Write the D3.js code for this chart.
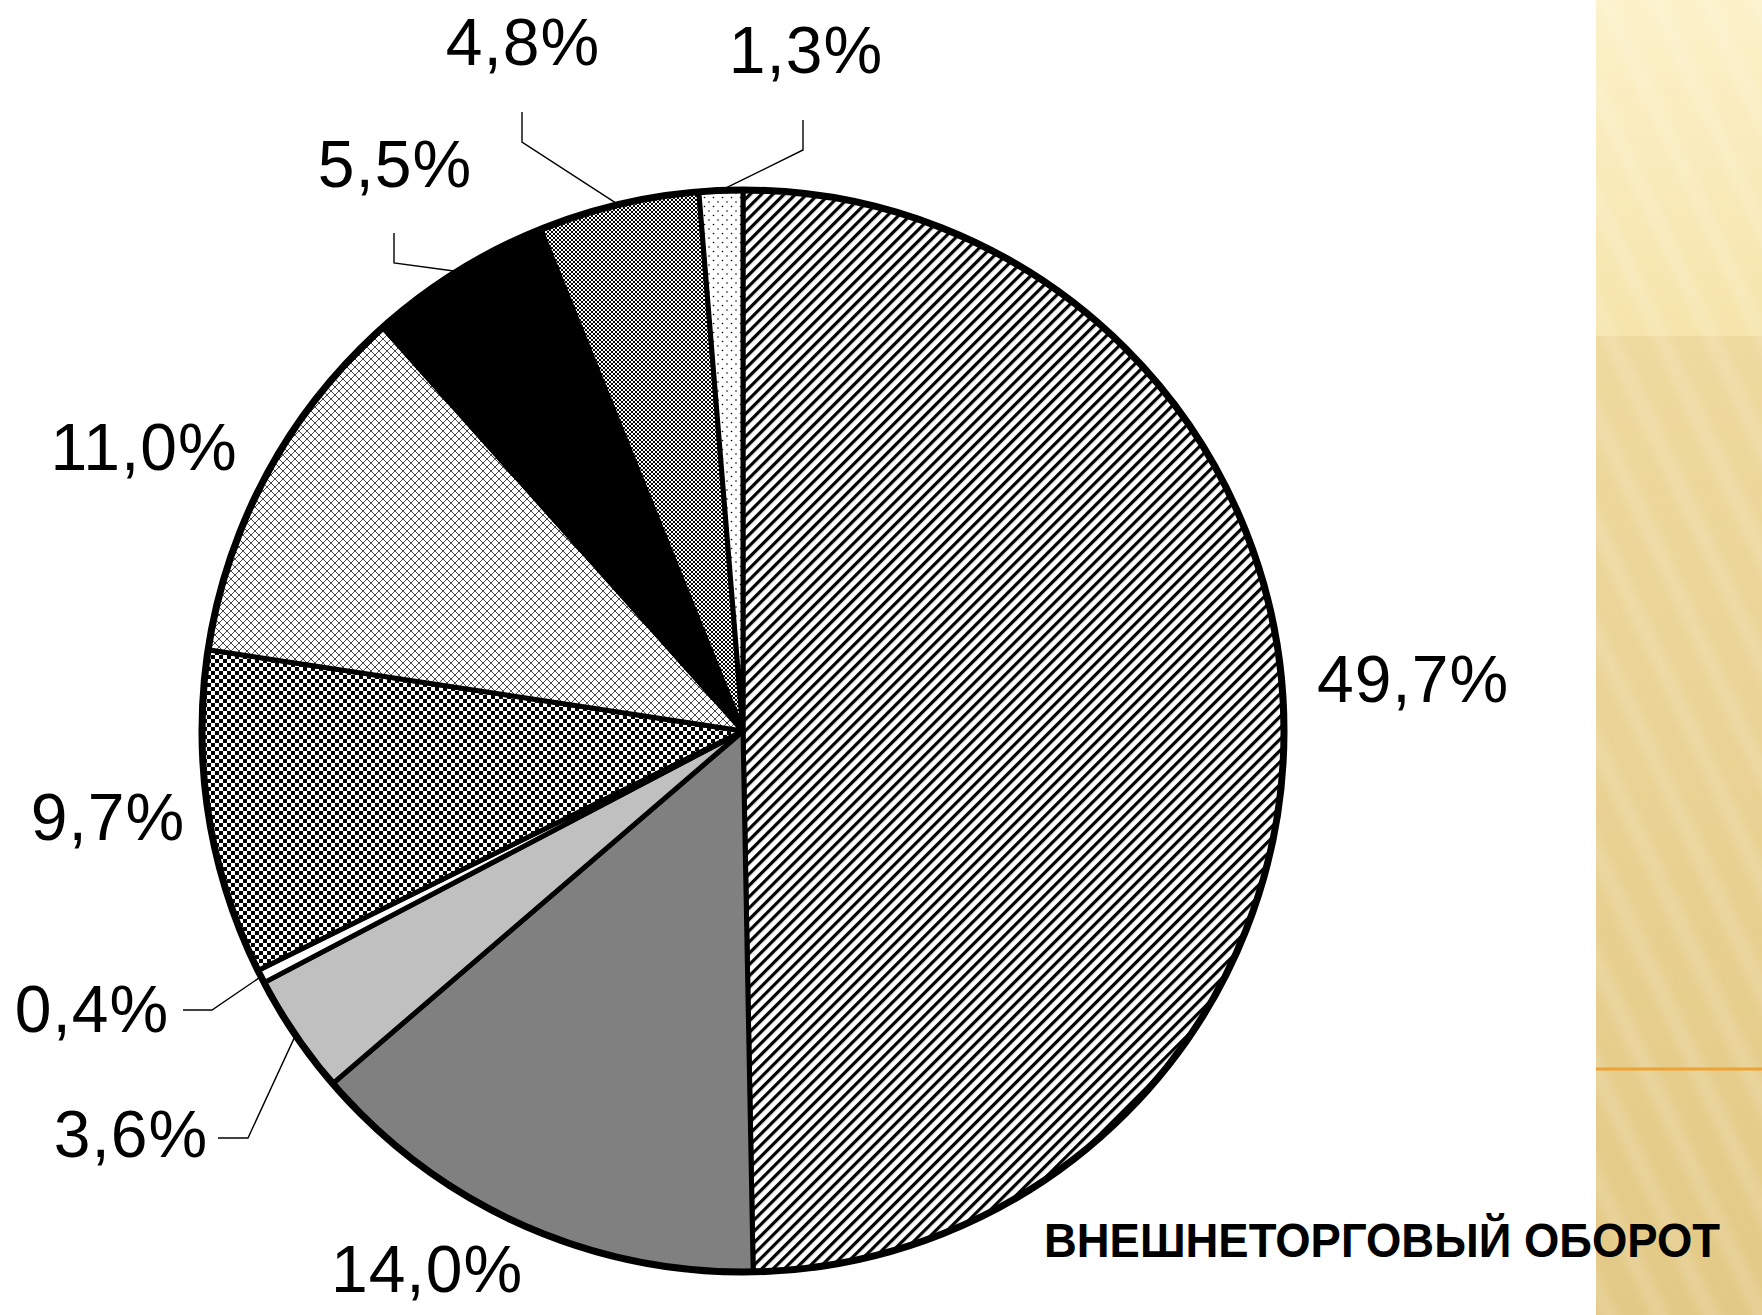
<!DOCTYPE html>
<html>
<head>
<meta charset="utf-8">
<script src="https://cdn.jsdelivr.net/npm/d3@7"></script>
<style>
  html, body { margin: 0; padding: 0; background: #fff; }
  svg { display: block; }
</style>
</head>
<body>
<div class="container"></div>
<script>
// shares of the pie, clockwise from 12 o'clock
var shares = [49.7, 14.0, 3.6, 0.4, 9.7, 11.0, 5.5, 4.8, 1.3];
var title = "ВНЕШНЕТОРГОВЫЙ ОБОРОТ";

// fill per slice (patterns are defined below)
var fills = ["url(#hatch)", "#808080", "#c0c0c0", "#ffffff", "url(#checkBig)",
             "url(#cross)", "#000000", "url(#checkFine)", "url(#dots)"];

// label baseline centres
var labelAt = [[1413, 702], [427, 1292], [131, 1157], [92, 1032], [108, 840],
               [144, 470], [395, 187], [523, 65], [806, 73]];
// leader lines: [start, knee] for slices that have one, null otherwise
var leaders = [null, null, [[218, 1138], [248, 1138]], [[183, 1010], [212, 1010]], null,
               null, [[394, 233], [394, 263]], [[522, 112], [522, 142]], [[803, 120], [803, 150]]];

var svgWidth = 1762;
var svgHeight = 1315;
var cx = 743, cy = 731, radius = 541;

var svg = d3.select(".container")
    .append("svg")
    .attr("width", svgWidth)
    .attr("height", svgHeight);

var defs = svg.append("defs");

// right side decorative strip
var gTop = defs.append("linearGradient").attr("id", "bgTop").attr("x1", 0).attr("y1", 0).attr("x2", 0).attr("y2", 1);
gTop.append("stop").attr("offset", "0%").attr("stop-color", "#fcf1c9");
gTop.append("stop").attr("offset", "100%").attr("stop-color", "#f5e4ab");
var gLow = defs.append("linearGradient").attr("id", "bgLow").attr("x1", 0).attr("y1", 0).attr("x2", 0).attr("y2", 1);
gLow.append("stop").attr("offset", "0%").attr("stop-color", "#eed99e");
gLow.append("stop").attr("offset", "100%").attr("stop-color", "#e3c986");

defs.append("filter").attr("id", "soft")
    .append("feGaussianBlur").attr("stdDeviation", 4);

var stripes = defs.append("pattern").attr("id", "bgStripes")
    .attr("patternUnits", "userSpaceOnUse").attr("width", 46).attr("height", 46)
    .attr("patternTransform", "rotate(-25)");
stripes.append("rect").attr("width", 16).attr("height", 46).attr("fill", "#fff").attr("opacity", 0.14);

// slice patterns
var hatch = defs.append("pattern").attr("id", "hatch")
    .attr("patternUnits", "userSpaceOnUse").attr("width", 8).attr("height", 8)
    .attr("patternTransform", "rotate(45)");
hatch.append("rect").attr("width", 8).attr("height", 8).attr("fill", "#fff");
hatch.append("rect").attr("width", 3.2).attr("height", 8).attr("fill", "#000");

var checkBig = defs.append("pattern").attr("id", "checkBig")
    .attr("patternUnits", "userSpaceOnUse").attr("width", 8).attr("height", 8);
checkBig.append("rect").attr("width", 8).attr("height", 8).attr("fill", "#fff");
checkBig.append("rect").attr("width", 4).attr("height", 4).attr("fill", "#000");
checkBig.append("rect").attr("x", 4).attr("y", 4).attr("width", 4).attr("height", 4).attr("fill", "#000");

var checkFine = defs.append("pattern").attr("id", "checkFine")
    .attr("patternUnits", "userSpaceOnUse").attr("width", 4).attr("height", 4);
checkFine.append("rect").attr("width", 4).attr("height", 4).attr("fill", "#fff");
checkFine.append("rect").attr("width", 2).attr("height", 2).attr("fill", "#000");
checkFine.append("rect").attr("x", 2).attr("y", 2).attr("width", 2).attr("height", 2).attr("fill", "#000");

var cross = defs.append("pattern").attr("id", "cross")
    .attr("patternUnits", "userSpaceOnUse").attr("width", 8).attr("height", 8);
cross.append("rect").attr("width", 8).attr("height", 8).attr("fill", "#fff");
cross.append("path").attr("d", "M0,0L8,8M8,0L0,8").attr("stroke", "#333").attr("stroke-width", 0.9);

var dots = defs.append("pattern").attr("id", "dots")
    .attr("patternUnits", "userSpaceOnUse").attr("width", 9).attr("height", 9);
dots.append("rect").attr("width", 9).attr("height", 9).attr("fill", "#fff");
dots.append("circle").attr("cx", 2).attr("cy", 2).attr("r", 0.8).attr("fill", "#000");
dots.append("circle").attr("cx", 6.5).attr("cy", 6.5).attr("r", 0.8).attr("fill", "#000");

// background strip
svg.append("rect").attr("x", 1596).attr("y", 0).attr("width", 166).attr("height", 336).attr("fill", "url(#bgTop)");
svg.append("rect").attr("x", 1596).attr("y", 336).attr("width", 166).attr("height", 979).attr("fill", "url(#bgLow)");
svg.append("svg")
    .attr("x", 1596).attr("y", 0).attr("width", 166).attr("height", 1315)
    .append("rect").attr("x", -20).attr("y", -20).attr("width", 206).attr("height", 1355)
    .attr("fill", "url(#bgStripes)").attr("filter", "url(#soft)");
svg.append("line").attr("x1", 1596).attr("x2", 1762).attr("y1", 1069).attr("y2", 1069)
    .attr("stroke", "#eda233").attr("stroke-width", 3);

// pie
var pie = d3.pie().sort(null).value(d => d);
var arcs = pie(shares);
var arc = d3.arc().innerRadius(0).outerRadius(radius);
var edge = d3.arc().innerRadius(radius).outerRadius(radius);

var chartGroup = svg.append("g")
    .attr("transform", `translate(${cx}, ${cy})`);

chartGroup.selectAll(".slice")
    .data(arcs)
    .enter()
    .append("path")
    .classed("slice", true)
    .attr("d", arc)
    .attr("fill", (d, i) => fills[i])
    .attr("stroke", "#000")
    .attr("stroke-width", 5)
    .attr("stroke-linejoin", "round");

chartGroup.append("circle")
    .attr("r", radius)
    .attr("fill", "none")
    .attr("stroke", "#000")
    .attr("stroke-width", 7);

// leader lines
arcs.forEach((d, i) => {
    if (!leaders[i]) return;
    var p = edge.centroid(d);
    var pts = [leaders[i][0], leaders[i][1], [p[0] + cx, p[1] + cy]];
    svg.append("path")
        .attr("d", d3.line()(pts))
        .attr("fill", "none")
        .attr("stroke", "#000")
        .attr("stroke-width", 1.4);
});

// labels
var fmt = d3.format(".1f");
svg.selectAll(".label")
    .data(arcs)
    .enter()
    .append("text")
    .classed("label", true)
    .attr("x", (d, i) => labelAt[i][0])
    .attr("y", (d, i) => labelAt[i][1])
    .attr("text-anchor", "middle")
    .attr("font-family", "'Liberation Sans', Arial, sans-serif")
    .attr("font-size", "66px")
    .attr("letter-spacing", "1px")
    .attr("fill", "#000")
    .text(d => fmt(d.data).replace(".", ",") + "%");

svg.append("text")
    .attr("x", 1044)
    .attr("y", 1257)
    .attr("font-family", "'Liberation Sans', Arial, sans-serif")
    .attr("font-weight", "bold")
    .attr("font-size", "48px")
    .attr("textLength", 676)
    .attr("lengthAdjust", "spacingAndGlyphs")
    .attr("fill", "#000")
    .text(title);
</script>
</body>
</html>
